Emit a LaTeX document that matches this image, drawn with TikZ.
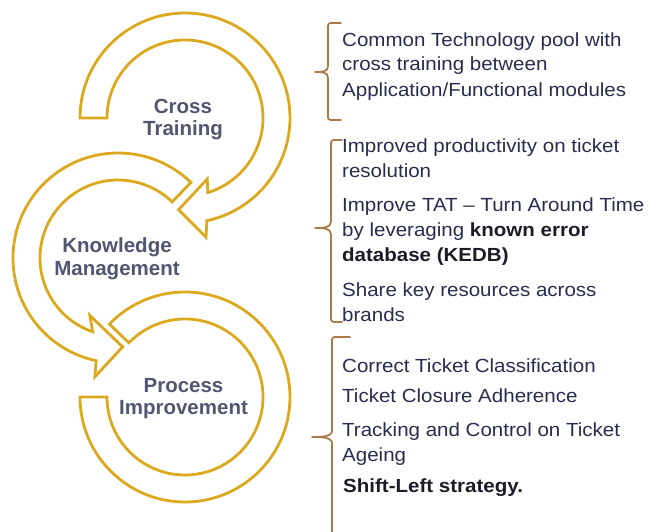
\documentclass[tikz,border=0pt]{standalone}
\usepackage{fontspec}
\setmainfont{Liberation Sans}
\newfontfamily\rfont{Liberation Sans}[FakeStretch=1.08]
\definecolor{gold}{RGB}{220,168,30}
\definecolor{lab}{RGB}{82,86,112}
\definecolor{txt}{RGB}{42,44,78}
\definecolor{btxt}{RGB}{28,28,40}
\definecolor{brn}{RGB}{170,122,72}
\tikzset{
  cyc/.style={draw=gold, fill=white, line width=2.8pt, line join=miter},
  lbl/.style={align=center, text=lab, inner sep=0pt, font=\fontsize{20.5}{22.5}\selectfont\bfseries},
  rt/.style={anchor=base west, inner sep=0pt, text=txt, font=\rfont\fontsize{19}{25}\selectfont},
  br/.style={draw=brn, line width=1.8pt, line join=round, line cap=round}
}
\newcommand\kb[1]{\textcolor{btxt}{\textbf{#1}}}
\begin{document}
\begin{tikzpicture}[x=1pt,y=1pt]
\useasboundingbox[fill=white] (0,0) rectangle (657,532);
% Process Improvement cycle
\begin{scope}[shift={(185,135)}]
\draw[cyc] (136:105pt) arc[start angle=136, end angle=-180, radius=105pt]
  -- (180:78pt) arc[start angle=-180, end angle=136, radius=78pt] -- cycle;
\end{scope}
% Knowledge Management cycle
\begin{scope}[shift={(118,274)}]
\draw[cyc] (46:105pt) arc[start angle=46, end angle=258, radius=105pt]
  -- (259:121pt) -- (273:89pt) -- (244:64pt) -- (251:78pt)
  arc[start angle=251, end angle=46, radius=78pt] -- cycle;
\end{scope}
% Cross Training cycle
\begin{scope}[shift={(185,414)}]
\draw[cyc] (180:105pt) arc[start angle=180, end angle=-78, radius=105pt]
  -- (-80:121pt) -- (-94:92pt) -- (-70:65pt) -- (-73:78pt)
  arc[start angle=-73, end angle=180, radius=78pt] -- cycle;
\end{scope}
% labels
\node[lbl] (ct) at (183,412.5) {Cross\\Training};
\node[lbl] (km) at (117,273) {Knowledge\\Management};
\node[lbl] (pi) at (183.5,133.5) {Process\\Improvement};
% braces
\draw[br] (341,509) -- (334,509) .. controls (328,509) .. (328,503) -- (328,466)
  .. controls (328,460) and (322,460) .. (315,460)
  .. controls (322,460) and (328,460) .. (328,454) -- (328,418)
  .. controls (328,412) .. (334,412) -- (341,412);
\draw[br] (342,392) -- (337,392) .. controls (331,392) .. (331,386) -- (331,310)
  .. controls (331,304) and (322,304) .. (315,304)
  .. controls (322,304) and (331,304) .. (331,298) -- (331,216)
  .. controls (331,210) .. (337,210) -- (342,210);
\draw[br] (350,195) -- (338,195) .. controls (332,195) .. (332,189) -- (332,101)
  .. controls (332,95) and (320,95) .. (312,95)
  .. controls (320,95) and (332,95) .. (332,89) -- (332,-10);
% texts
\node[rt] (t1a) at (342,485) {Common Technology pool with};
\node[rt] (t1b) at (342,461) {cross training between};
\node[rt] (t1c) at (342,435) {Application/Functional modules};
\node[rt] (t2a) at (342,379) {Improved productivity on ticket};
\node[rt] (t2b) at (342,354) {resolution};
\node[rt] (t2c) at (342,320) {Improve TAT – Turn Around Time};
\node[rt] (t2d) at (342,295) {by leveraging \kb{known error}};
\node[rt] (t2e) at (342,270) {\kb{database (KEDB)}};
\node[rt] (t2f) at (342,235) {Share key resources across};
\node[rt] (t2g) at (342,210) {brands};
\node[rt] (t3a) at (342,159) {Correct Ticket Classification};
\node[rt] (t3b) at (342,129) {Ticket Closure Adherence};
\node[rt] (t3c) at (342,95) {Tracking and Control on Ticket};
\node[rt] (t3d) at (342,70) {Ageing};
\node[rt] (t3e) at (343,39) {\kb{Shift-Left strategy.}};
\end{tikzpicture}
\end{document}
